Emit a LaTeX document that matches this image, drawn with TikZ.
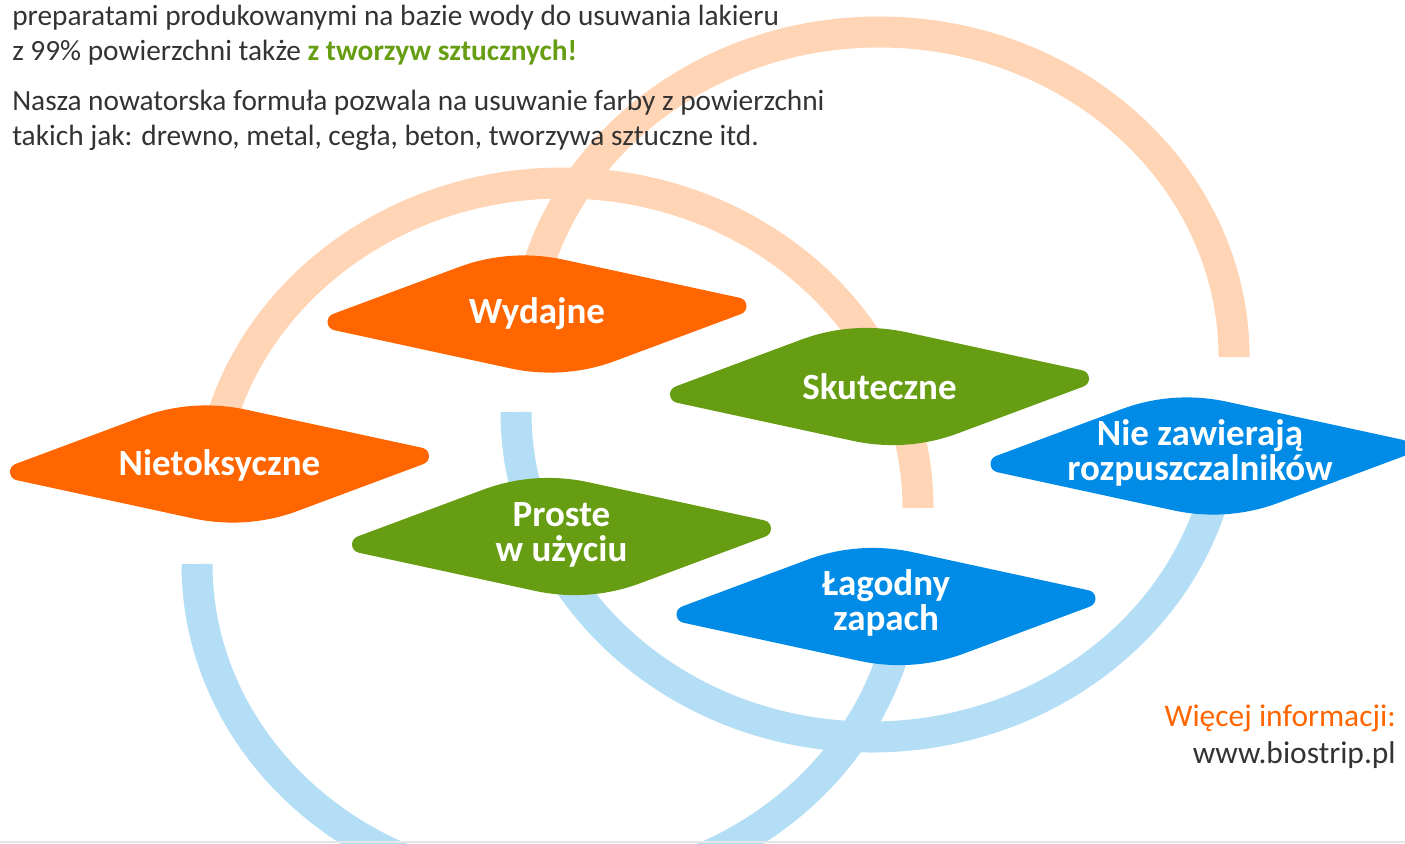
\documentclass[tikz,border=0pt]{standalone}
\usepackage{fontspec}
\setmainfont{Carlito}

\definecolor{ringpeach}{RGB}{255,213,181}
\definecolor{ringblue}{RGB}{180,222,246}
\definecolor{platorange}{RGB}{255,102,0}
\definecolor{platgreen}{RGB}{102,157,18}
\definecolor{platblue}{RGB}{0,139,230}
\definecolor{textgrey}{RGB}{51,51,51}

\tikzset{
  ring/.style={line width=23.25pt},
  platetext/.style={text=white, align=center, inner sep=0.75pt, font=\fontsize{27.75}{26.25}\selectfont\bfseries},
  bodytext/.style={text=textgrey, inner sep=0pt, font=\fontsize{22}{26.25}\selectfont},
}

% rounded skewed diamond, #1 colour, #2 #3 centre
\newcommand{\featplate}[3]{%
  \fill[#1, shift={(#2,#3)}] (-203.8,-0.1) -- (-78.5,-46.8) .. controls (-44.8,-59.4) and (-8.4,-61.9) .. (26.8,-54.3) -- (202.7,-16.2) .. controls (211.1,-14.4) and (211.9,-2.9) .. (203.8,0.1) -- (78.5,46.8) .. controls (44.8,59.4) and (8.4,61.9) .. (-26.8,54.3) -- (-202.7,16.2) .. controls (-211.1,14.4) and (-211.9,2.9) .. (-203.8,-0.1) -- cycle;
}

\begin{document}
\begin{tikzpicture}[x=0.75pt,y=0.75pt,yscale=-1,xscale=1]
\clip (0,0) rectangle (1405,843);

%Arcs
\draw [ring, ringpeach] (1234,357) arc [start angle=0, end angle=-170, x radius=355, y radius=325];
\draw [ring, ringpeach] (918,508) arc [start angle=0, end angle=-170, x radius=355, y radius=325];
\draw [ring, ringblue] (197,564) arc [start angle=180, end angle=10, x radius=355, y radius=325];
\draw [ring, ringblue] (516,412) arc [start angle=180, end angle=10, x radius=355, y radius=325];

%Shapes
\featplate{platorange}{219.5}{464}
\featplate{platorange}{537}{314}
\featplate{platgreen}{879.5}{386.5}
\featplate{platgreen}{561.5}{536.5}
\featplate{platblue}{886}{606.5}
\featplate{platblue}{1200}{456}

% Text Node
\node [platetext] (nietox) at (219.5,465) {Nietoksyczne};
% Text Node
\node [platetext] (wydajne) at (537,314) {Wydajne};
% Text Node
\node [platetext] (skuteczne) at (879.5,386.5) {Skuteczne};
% Text Node
\node [platetext] (proste) at (561.5,535) {Proste\\w użyciu};
% Text Node
\node [platetext] (lagodny) at (886,603) {Łagodny\\zapach};
% Text Node
\node [platetext] (bezrozp) at (1200,453) {Nie zawierają\\rozpuszczalników};

% Text Node
\node [bodytext, anchor=base west, align=left] (intro) at (12,60) {preparatami produkowanymi na bazie wody do usuwania lakieru\\z 99\% powierzchni także {\bfseries\color{platgreen}z tworzyw sztucznych!}};
% Text Node
\node [bodytext, anchor=base west, align=left] (formula) at (12,145) {Nasza nowatorska formuła pozwala na usuwanie farby z powierzchni\\takich jak: drewno, metal, cegła, beton, tworzywa sztuczne itd.};
% Text Node
\node [bodytext, anchor=base east, align=right, font=\fontsize{23.6}{27.75}\selectfont] (info) at (1396,763) {{\color{platorange}Więcej informacji:}\\www.biostrip.pl};

\draw [gray!20, line width=1pt] (0,842) -- (1405,842);

\end{tikzpicture}
\end{document}
